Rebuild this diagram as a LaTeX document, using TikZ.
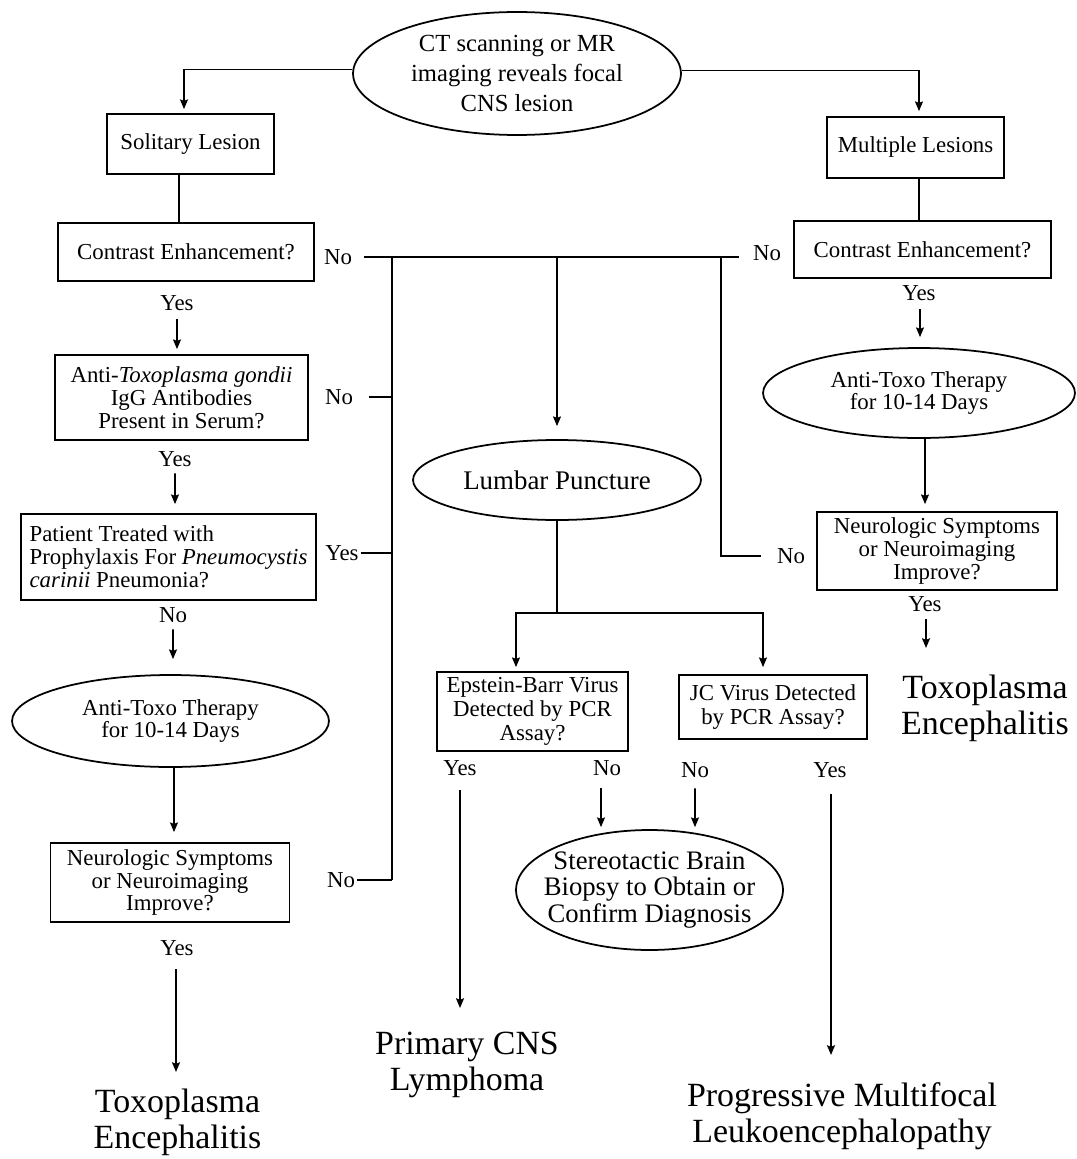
\documentclass[tikz,border=0pt]{standalone}
\usepackage{fontspec}
\setmainfont{Liberation Serif}
\usetikzlibrary{shapes.geometric,arrows.meta,calc}
\newcommand\fsN{\fontsize{13pt}{13pt}\selectfont}
\newcommand\fsTop{\fontsize{14pt}{17pt}\selectfont}
\newcommand\fsLP{\fontsize{15.3pt}{17pt}\selectfont}
\newcommand\fsST{\fontsize{15.2pt}{15.3pt}\selectfont}
\newcommand\fsBig{\fontsize{19.3pt}{20.4pt}\selectfont}
\newcommand\fsEJ{\fontsize{13pt}{13.5pt}\selectfont}
\begin{document}
\begin{tikzpicture}[x=0.02cm,y=-0.02cm,line width=1pt,
  box/.style={draw,rectangle,inner sep=0pt,align=center,font=\fsN},
  oval/.style={draw,ellipse,inner sep=0pt,align=center,font=\fsN},
  lbl/.style={inner sep=0pt,font=\fsN},
  outc/.style={inner sep=0pt,anchor=north,align=center,font=\fsBig},
  arr/.style={-{Stealth[length=5.5pt,width=4.5pt,inset=0.8pt]}}]
\useasboundingbox (0,0) rectangle (1076,1159);

% nodes
\node[oval,font=\fsTop,minimum width=6.56cm,minimum height=2.46cm] (top) at (517,73.5) {CT scanning or MR\\imaging reveals focal\\CNS lesion};
\node[box,minimum width=3.34cm,minimum height=1.2cm] (sol) at (190.5,144) {Solitary Lesion};
\node[box,minimum width=3.54cm,minimum height=1.22cm] (mult) at (915.5,147.5) {Multiple Lesions};
\node[box,minimum width=5.11cm,minimum height=1.16cm] (ceL) at (186,252) {Contrast Enhancement?};
\node[box,minimum width=5.14cm,minimum height=1.14cm] (ceR) at (922.5,249.5) {Contrast Enhancement?};
\node[box,minimum width=5.06cm,minimum height=1.7cm] (antiTg) at (181.5,397.5) {Anti-\textit{Toxoplasma gondii}\\IgG Antibodies\\Present in Serum?};
\node[box,align=left,minimum width=5.9cm,minimum height=1.72cm] (patient) at (168.5,557) {Patient Treated with\\Prophylaxis For \textit{Pneumocystis}\\\textit{carinii} Pneumonia?};
\node[oval,minimum width=6.34cm,minimum height=1.84cm] (aL) at (170.5,721) {Anti-Toxo Therapy\\for 10-14 Days};
\node[box,minimum width=4.78cm,minimum height=1.58cm] (nL) at (170,882.5) {Neurologic Symptoms\\or Neuroimaging\\Improve?};
\node[oval,font=\fsLP,minimum width=5.76cm,minimum height=1.6cm] (lp) at (557,480) {Lumbar Puncture};
\node[oval,minimum width=6.24cm,minimum height=1.8cm] (aR) at (919,393) {Anti-Toxo Therapy\\for 10-14 Days};
\node[box,minimum width=4.81cm,minimum height=1.56cm] (nR) at (937,551) {Neurologic Symptoms\\or Neuroimaging\\Improve?};
\node[box,font=\fsEJ,minimum width=3.82cm,minimum height=1.58cm] (ebv) at (532.5,711.5) {Epstein-Barr Virus\\Detected by PCR\\Assay?};
\node[box,font=\fsEJ,minimum width=3.76cm,minimum height=1.28cm] (jc) at (773,707) {JC Virus Detected\\by PCR Assay?};
\node[oval,font=\fsST,inner xsep=-0.3cm,minimum width=5.34cm,minimum height=2.4cm] (st) at (649.5,890) {Stereotactic Brain\\Biopsy to Obtain or\\Confirm Diagnosis};

\node[outc] (teL) at (177.5,1088) {Toxoplasma\\Encephalitis};
\node[outc] (teR) at (985,674) {Toxoplasma\\Encephalitis};
\node[outc] (pcl) at (467,1031) {Primary CNS\\Lymphoma};
\node[outc] (pml) at (842,1082) {Progressive Multifocal\\Leukoencephalopathy};

% labels
\node[lbl] (noCEL) at (338,257) {No};
\node[lbl] (yesCEL) at (177,303) {Yes};
\node[lbl] (noCER) at (767,253) {No};
\node[lbl] (yesCER) at (919,293) {Yes};
\node[lbl] (noTg) at (339,397) {No};
\node[lbl] (yesTg) at (175,459) {Yes};
\node[lbl] (yesPt) at (342,553) {Yes};
\node[lbl] (noPt) at (173,615) {No};
\node[lbl] (noNR) at (791,556) {No};
\node[lbl] (yesNR) at (925,604) {Yes};
\node[lbl] (noNL) at (341,880) {No};
\node[lbl] (yesNL) at (177,948) {Yes};
\node[lbl] (yesEbv) at (460,768) {Yes};
\node[lbl] (noEbv) at (607,768) {No};
\node[lbl] (noJc) at (695,770) {No};
\node[lbl] (yesJc) at (830,770) {Yes};

% junction coordinates
\coordinate (busT) at (392,257);
\coordinate (lpT) at (557,257);
\coordinate (rnT) at (721,257);
\coordinate (spM) at (557,613);

% connectors
\draw[arr] ($(top.west)+(0,-4)$) -| ($(sol.north)+(-6.5,-4)$);
\draw[arr] ($(top.east)+(0,-3)$) -| ($(mult.north)+(3.5,-5)$);
\draw ($(sol.south)+(-11.5,0)$) -- ($(ceL.north)+(-7,0)$);
\draw ($(mult.south)+(3.5,0)$) -- ($(ceR.north)+(-3.5,0)$);
\draw[arr] ($(yesCEL.south)+(0,8)$) -- ($(antiTg.north)+(-4.5,-5)$);
\draw[arr] ($(yesTg.south)+(0,6)$) -- ($(patient.north)+(6.5,-9)$);
\draw[arr] ($(noPt.south)+(0,6)$) -- ($(aL.north)+(2.5,-15)$);
\draw[arr] ($(aL.south)+(3.5,0)$) -- ($(nL.north)+(4,-10)$);
\draw[arr] ($(yesNL.south)+(-1,13)$) -- ($(teL.north)+(-1.5,-16)$);
\draw[arr] ($(yesCER.south)+(1,8)$) -- ($(aR.north)+(1,-10)$);
\draw[arr] ($(aR.south)+(6,0)$) -- ($(nR.north)+(-12,-7)$);
\draw[arr] ($(yesNR.south)+(1,7)$) -- ($(teR.north)+(-59,-26)$);

\draw ($(noCEL.east)+(11,0)$) -- (busT) -- (lpT) -- (rnT) -- ($(noCER.west)+(-13.5,4)$);
\draw (busT) -- (busT |- noNL.east);
\draw ($(noTg.east)+(15,0)$) -- (noTg.east -| busT);
\draw ($(yesPt.east)+(1,0)$) -- (yesPt.east -| busT);
\draw ($(noNL.east)+(1,0)$) -- (noNL.east -| busT);
\draw[arr] (lpT) -- ($(lp.north)+(0,-13)$);
\draw (rnT) |- ($(noNR.west)+(-15,0)$);

\draw (lp.south) -- (spM);
\draw[arr] (spM) -| ($(ebv.north)+(-16.5,-4)$);
\draw[arr] (spM) -| ($(jc.north)+(-10,-7)$);
\draw[arr] ($(yesEbv.south)+(0,14)$) -- ($(pcl.north)+(-7,-23)$);
\draw[arr] ($(noEbv.south)+(-6,12)$) -- ($(st.north)+(-48.5,-2)$);
\draw[arr] ($(noJc.south)+(0,10)$) -- ($(st.north)+(45.5,-2)$);
\draw[arr] ($(yesJc.south)+(1,16)$) -- ($(pml.north)+(-11,-27)$);
\end{tikzpicture}
\end{document}
